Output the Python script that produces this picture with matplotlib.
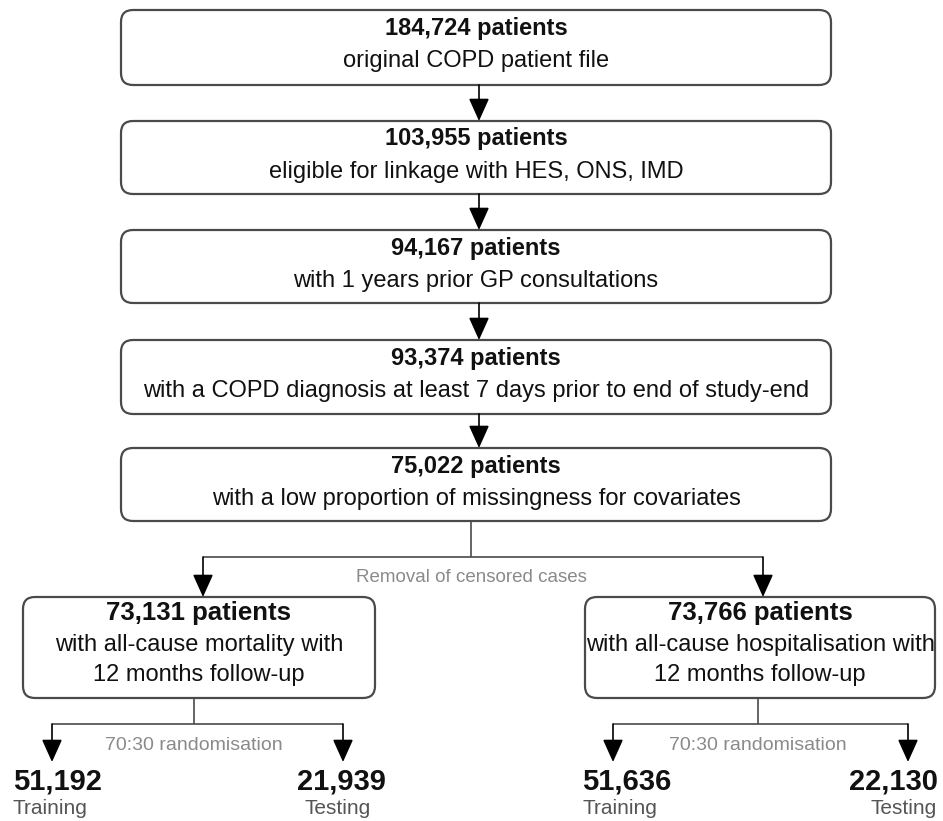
import matplotlib.pyplot as plt
from matplotlib.patches import FancyBboxPatch

plt.rcParams['font.family'] = ['Liberation Sans', 'DejaVu Sans']

# main chain of the cohort flow
main_counts = ['184,724 patients', '103,955 patients', '94,167 patients',
               '93,374 patients', '75,022 patients']
main_notes = ['original COPD patient file',
              'eligible for linkage with HES, ONS, IMD',
              'with 1 years prior GP consultations',
              'with a COPD diagnosis at least 7 days prior to end of study-end',
              'with a low proportion of missingness for covariates']

# two outcome branches
branch_counts = ['73,131 patients', '73,766 patients']
branch_notes = ['with all-cause mortality with\n12 months follow-up',
                'with all-cause hospitalisation with\n12 months follow-up']
split_label = 'Removal of censored cases'

# train / test split for each branch
train_n = ['51,192', '51,636']
test_n = ['21,939', '22,130']
rand_label = '70:30 randomisation'

W, H = 943, 821
fig = plt.figure(figsize=(W / 100, H / 100), dpi=100)
ax = fig.add_axes([0, 0, 1, 1])
ax.set_xlim(0, W)
ax.set_ylim(H, 0)
ax.axis('off')

edge = '#4a4a4a'
dark = '#111111'
grey = '#8a8a8a'


def box(x0, y0, x1, y1):
    p = FancyBboxPatch((x0, y0), x1 - x0, y1 - y0,
                       boxstyle='round,pad=0,rounding_size=12',
                       fc='white', ec=edge, lw=1.6)
    ax.add_patch(p)


def arrow(x, y0, y1):
    ax.annotate('', xy=(x, y1), xytext=(x, y0),
                arrowprops=dict(arrowstyle='-|>,head_length=1.0,head_width=0.45',
                                mutation_scale=14, color='black', lw=1.2,
                                shrinkA=0, shrinkB=0))


def line(xs, ys):
    ax.plot(xs, ys, color=edge, lw=1.2, solid_capstyle='butt')


# main boxes
tops = [10, 121, 230, 340, 448]
bottoms = [85, 194, 303, 414, 521]
cx = 476
for i in range(len(main_counts)):
    box(121, tops[i], 831, bottoms[i])
    ax.text(cx, tops[i] + 18, main_counts[i], ha='center', va='center',
            fontsize=17, fontweight='bold', color=dark)
    ax.text(cx, tops[i] + 51, main_notes[i], ha='center', va='center',
            fontsize=17, color=dark)
    if i < len(main_counts) - 1:
        arrow(479, bottoms[i], tops[i + 1])

# split into two branches
line([471, 471], [521, 557])
line([203, 763], [557, 557])
arrow(203, 557, 597)
arrow(763, 557, 597)
ax.text(471, 577, split_label, ha='center', va='center', fontsize=13.5, color=grey)

branch_x = [(23, 375), (585, 935)]
stem_x = [194, 758]
leaf_x = [(52, 343), (613, 908)]
# label centres under each leaf arrow (train number, train word, test number, test word)
num_x = [(57, 341), (627, 893)]
word_x = [(50, 338), (620, 904)]
for j in range(2):
    x0, x1 = branch_x[j]
    bc = (x0 + x1) / 2
    box(x0, 597, x1, 698)
    ax.text(bc, 613, branch_counts[j], ha='center', va='center',
            fontsize=18.5, fontweight='bold', color=dark)
    ax.text(bc, 660, branch_notes[j], ha='center', va='center',
            fontsize=17, color=dark, linespacing=1.45)

    line([stem_x[j], stem_x[j]], [698, 724])
    lx, rx = leaf_x[j]
    line([lx, rx], [724, 724])
    arrow(lx, 724, 762)
    arrow(rx, 724, 762)
    ax.text(stem_x[j], 745, rand_label, ha='center', va='center',
            fontsize=14, color=grey)

    ax.text(num_x[j][0], 782, train_n[j], ha='center', va='center',
            fontsize=21, fontweight='bold', color=dark)
    ax.text(word_x[j][0], 809, 'Training', ha='center', va='center',
            fontsize=15, color='#555555')
    ax.text(num_x[j][1], 782, test_n[j], ha='center', va='center',
            fontsize=21, fontweight='bold', color=dark)
    ax.text(word_x[j][1], 809, 'Testing', ha='center', va='center',
            fontsize=15, color='#555555')

fig.savefig('out.png', dpi=100, facecolor='white')
